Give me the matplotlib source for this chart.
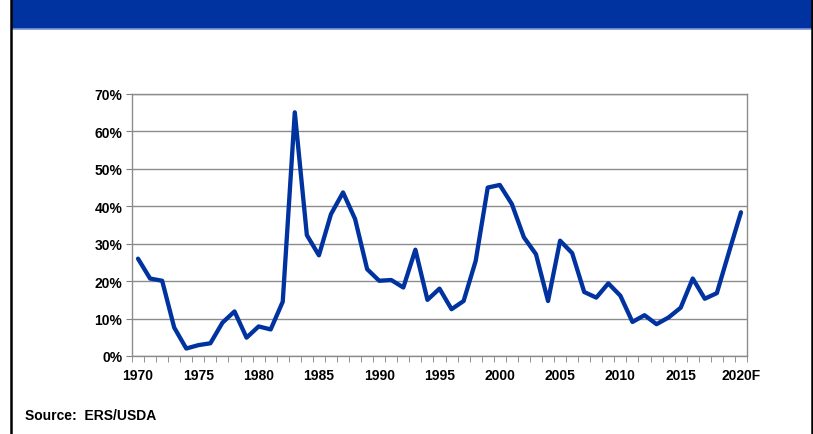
import numpy as np
import matplotlib.pyplot as plt
from matplotlib.patches import Rectangle
from matplotlib.lines import Line2D

plt.rcParams['font.family'] = ['Liberation Sans', 'DejaVu Sans']

years = list(range(1970, 2021))
ratio = [26.0, 20.7, 20.1, 7.6, 2.0, 2.9, 3.4, 8.9, 11.9, 4.9,
         7.9, 7.1, 14.5, 65.1, 32.3, 26.9, 37.9, 43.7, 36.6, 23.2,
         20.1, 20.3, 18.3, 28.4, 15.0, 18.0, 12.5, 14.7, 25.4, 45.0,
         45.7, 40.6, 31.7, 27.2, 14.7, 30.8, 27.5, 17.1, 15.6, 19.4,
         16.1, 9.1, 10.9, 8.5, 10.3, 12.9, 20.7, 15.3, 16.8, 27.7,
         38.4]
tick_years = [1970, 1975, 1980, 1985, 1990, 1995, 2000, 2005, 2010, 2015, 2020]
tick_text = ['1970', '1975', '1980', '1985', '1990', '1995', '2000', '2005',
             '2010', '2015', '2020F']
yticks = [0, 10, 20, 30, 40, 50, 60, 70]

W, H = 813, 435
fig = plt.figure(figsize=(W / 100, H / 100), dpi=100)

# blue banner across the top and the panel frame
fig.patches.append(Rectangle((12 / W, (H - 29) / H), 799 / W, 29 / H,
                             transform=fig.transFigure, color='#0033a0', zorder=0))
fig.lines.append(Line2D([12 / W, 811 / W], [(H - 29.5) / H] * 2,
                        transform=fig.transFigure, color='#7f9ad6', lw=1.2))
for xp in (11 / W, 811.5 / W):
    fig.lines.append(Line2D([xp, xp], [0, 1], transform=fig.transFigure,
                            color='black', lw=1.8))

ax = fig.add_axes([132 / W, (H - 357) / H, 615 / W, 262 / H])
idx = np.arange(len(years))
ax.plot(idx, ratio, color='#0033a0', lw=3.1, solid_joinstyle='round',
        solid_capstyle='round', zorder=3)

ax.set_xlim(-0.5, len(years) - 0.5)
ax.set_ylim(0, 70)
ax.set_yticks(yticks)
ax.set_yticklabels([f'{v}%' for v in yticks], fontsize=10, fontweight='bold')
ax.set_xticks([years.index(y) for y in tick_years])
ax.set_xticklabels(tick_text, fontsize=10, fontweight='bold')
ax.set_xticks(np.arange(-0.5, len(years), 1), minor=True)
ax.tick_params(axis='x', which='major', length=0, pad=9)
ax.tick_params(axis='x', which='minor', length=4, color='#808080', direction='out')
ax.tick_params(axis='y', length=4, color='#808080', pad=3)

ax.grid(axis='y', color='#8c8c8c', lw=1)
ax.set_axisbelow(True)
for s in ax.spines.values():
    s.set_color('#8c8c8c')
    s.set_linewidth(1)

fig.text(25 / W, (H - 416) / H, 'Source:  ERS/USDA', fontsize=10,
         fontweight='bold', va='center', ha='left')

fig.savefig('out.png', dpi=100)
